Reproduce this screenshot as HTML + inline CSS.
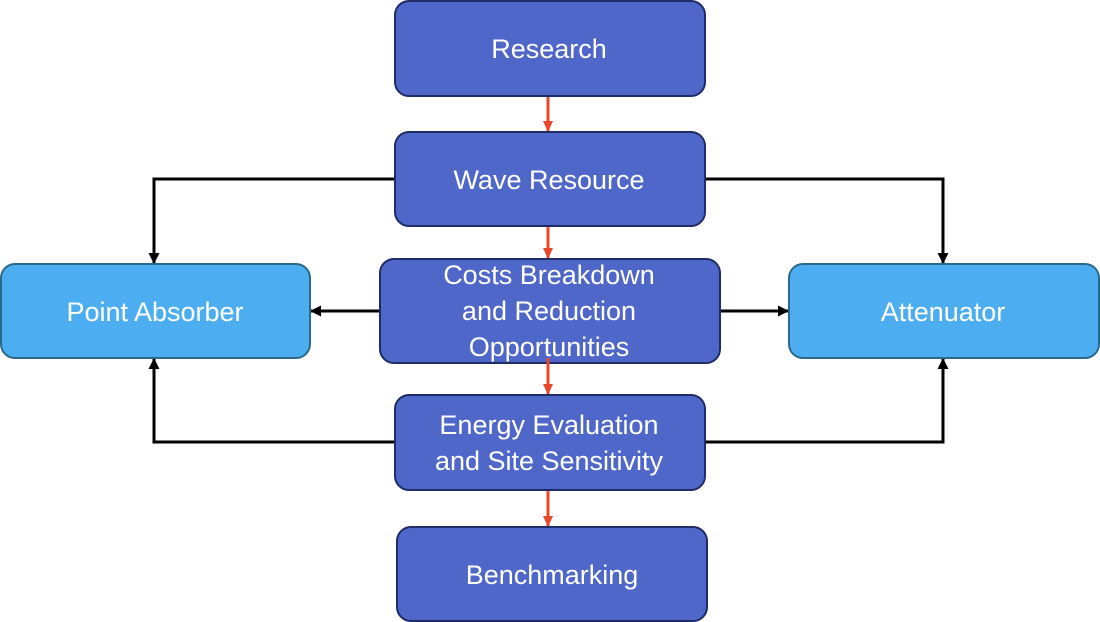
<!DOCTYPE html>
<html><head><meta charset="utf-8"><style>
html,body{margin:0;padding:0;background:#fff;width:1100px;height:622px;overflow:hidden}
svg{display:block}
text{font-family:"Liberation Sans",sans-serif;fill:#fff;font-size:27px;text-anchor:middle}
</style></head><body>
<svg width="1100" height="622" viewBox="0 0 1100 622" xmlns="http://www.w3.org/2000/svg">
<defs>
<marker id="bk" markerWidth="11" markerHeight="11" refX="10" refY="5.5" orient="auto" markerUnits="userSpaceOnUse"><path d="M0,0 L11,5.5 L0,11 z" fill="#000"/></marker>
<marker id="rd" markerWidth="11" markerHeight="10" refX="10" refY="5" orient="auto" markerUnits="userSpaceOnUse"><path d="M0,0 L11,5 L0,10 z" fill="#e8472a"/></marker>
</defs>
<g stroke="#000" stroke-width="3" fill="none">
<polyline points="396,179 154,179 154,263" marker-end="url(#bk)"/>
<polyline points="704,179 943,179 943,263" marker-end="url(#bk)"/>
<polyline points="381,311 311,311" marker-end="url(#bk)"/>
<polyline points="719,311 788,311" marker-end="url(#bk)"/>
<polyline points="396,442 154,442 154,359" marker-end="url(#bk)"/>
<polyline points="704,442 943,442 943,359" marker-end="url(#bk)"/>
</g>
<g stroke="#e8472a" stroke-width="3" fill="none">
<line x1="548" y1="96" x2="548" y2="131" marker-end="url(#rd)"/>
<line x1="548" y1="226" x2="548" y2="258" marker-end="url(#rd)"/>
<line x1="548" y1="358" x2="548" y2="394" marker-end="url(#rd)"/>
<line x1="548" y1="490" x2="548" y2="526" marker-end="url(#rd)"/>
</g>
<g fill="#4f67c9" stroke="#1f2c66" stroke-width="2">
<rect x="395" y="1" width="310" height="95" rx="14"/>
<rect x="395" y="132" width="310" height="94" rx="14"/>
<rect x="380" y="259" width="340" height="104" rx="14"/>
<rect x="395" y="395" width="310" height="95" rx="14"/>
<rect x="397" y="527" width="310" height="94" rx="14"/>
</g>
<line x1="548" y1="358" x2="548" y2="378" stroke="#e8472a" stroke-width="3"/>
<g fill="#4caef0" stroke="#2a6a88" stroke-width="2">
<rect x="1" y="264" width="309" height="94" rx="14"/>
<rect x="789" y="264" width="310" height="94" rx="14"/>
</g>
<text x="549" y="58">Research</text>
<text x="549" y="189">Wave Resource</text>
<text x="549" y="284">Costs Breakdown</text>
<text x="549" y="320">and Reduction</text>
<text x="549" y="356">Opportunities</text>
<text x="549" y="434">Energy Evaluation</text>
<text x="549" y="470">and Site Sensitivity</text>
<text x="552" y="584">Benchmarking</text>
<text x="155" y="321">Point Absorber</text>
<text x="943" y="321">Attenuator</text>
</svg>
</body></html>
